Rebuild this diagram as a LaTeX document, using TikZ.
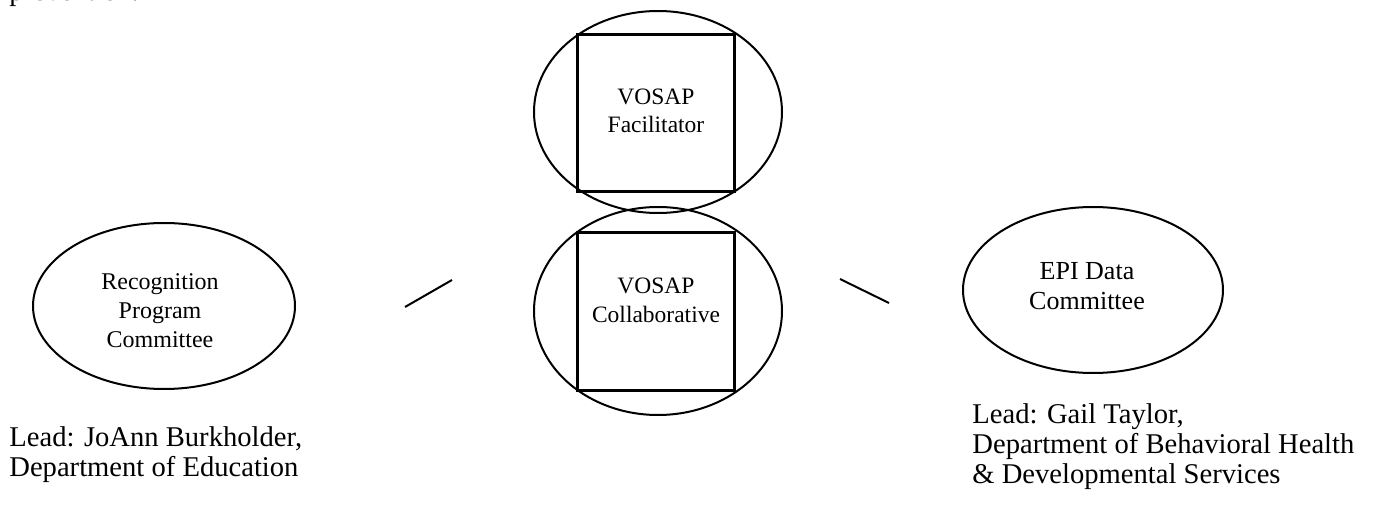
\documentclass[tikz,border=0pt]{standalone}
\usepackage{fontspec}
\setmainfont{Liberation Serif}
\usetikzlibrary{shapes.geometric}
\begin{document}
\begin{tikzpicture}[x=0.5pt,y=-0.5pt,
  oval/.style={draw,ellipse,line width=1pt,inner sep=0pt},
  sq/.style={draw,rectangle,line width=1.5pt,inner sep=0pt,minimum width=78.5pt,minimum height=78.5pt},
  conn/.style={line width=1pt},
  inner/.style={inner sep=0pt,anchor=base,font=\fontsize{11.75}{14}\selectfont},
  lefttxt/.style={inner sep=0pt,anchor=base,font=\fontsize{12}{14.5}\selectfont},
  righttxt/.style={inner sep=0pt,anchor=base,font=\fontsize{13}{15}\selectfont},
  lead/.style={inner sep=0pt,anchor=base west,font=\fontsize{14.3}{15}\selectfont}]
\useasboundingbox (0,0) rectangle (1373,508);
% cut-off text at top
\node[lead] (prev) at (9,1) {prevention.};
% central ellipses and squares
\node[oval,minimum width=124pt,minimum height=101pt] (topell) at (658,112) {};
\node[sq] (topsq) at (656,113.5) {};
\node[inner] (t1) at (656,105) {VOSAP};
\node[inner] (t2) at (656,133) {Facilitator};
\node[oval,minimum width=124pt,minimum height=104pt] (botell) at (658,311) {};
\node[sq] (botsq) at (656,311.5) {};
\node[inner] (b1) at (656,293) {VOSAP};
\node[inner] (b2) at (656,322) {Collaborative};
% left committee
\node[oval,minimum width=131pt,minimum height=83pt] (left) at (164,306) {};
\node[lefttxt] (l1) at (160,290) {Recognition};
\node[lefttxt] (l2) at (160,319) {Program};
\node[lefttxt] (l3) at (160,348) {Committee};
% right committee
\node[oval,minimum width=130pt,minimum height=83pt] (right) at (1093,290) {};
\node[righttxt] (r1) at (1087,279) {EPI Data};
\node[righttxt] (r2) at (1087,309) {Committee};
% connectors (free-standing strokes)
\coordinate (la) at (405,307);
\coordinate (lb) at (452,280);
\coordinate (ra) at (840,279);
\coordinate (rb) at (889,303);
\draw[conn] (la) -- (lb);
\draw[conn] (ra) -- (rb);
% leads
\node[lead] (ll1) at (9,446) {Lead: JoAnn Burkholder,};
\node[lead] (ll2) at (9,476) {Department of Education};
\node[lead] (rl1) at (972,423) {Lead: Gail Taylor,};
\node[lead] (rl2) at (972,453) {Department of Behavioral Health};
\node[lead] (rl3) at (972,483) {\& Developmental Services};
\end{tikzpicture}
\end{document}
